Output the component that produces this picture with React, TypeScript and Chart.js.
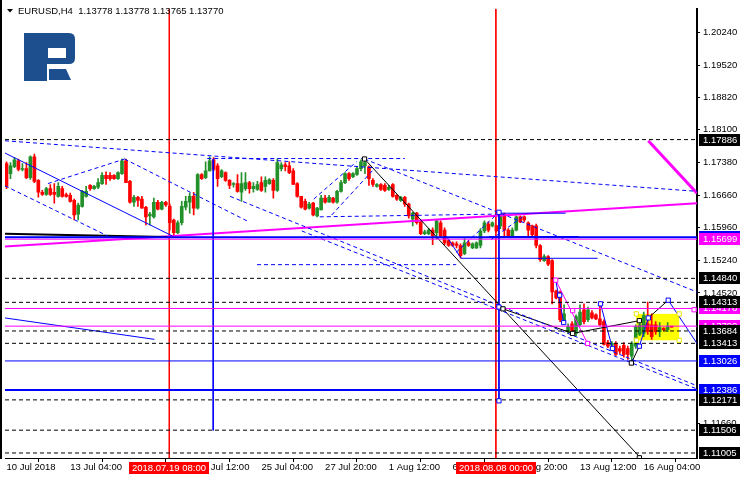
import React, { useEffect, useRef } from 'react';
import { Chart, registerables } from 'chart.js';
Chart.register(...registerables);

const X_MIN = -0.375;
const X_MAX = 173.375;
const Y_MIN = 1.10895;
const Y_MAX = 1.2076;

const opens = [
  1.1736, 1.1714, 1.1729, 1.1742, 1.1723, 1.1725, 1.1705, 1.1751, 1.1699, 1.1673,
  1.1668, 1.1681, 1.1673, 1.1664, 1.1681, 1.1668, 1.1666, 1.1655, 1.1625, 1.1642,
  1.1664, 1.1688, 1.1681, 1.1684, 1.1692, 1.1710, 1.1710, 1.1710, 1.1703, 1.1714,
  1.1742, 1.1697, 1.1651, 1.1662, 1.1658, 1.1640, 1.1621, 1.1619, 1.1651, 1.1636,
  1.1651, 1.1642, 1.1612, 1.1584, 1.1606, 1.1640, 1.1651, 1.1664, 1.1638, 1.1712,
  1.1705, 1.1720, 1.1744, 1.1731, 1.1707, 1.1716, 1.1699, 1.1690, 1.1692, 1.1673,
  1.1681, 1.1694, 1.1681, 1.1679, 1.1694, 1.1686, 1.1692, 1.1699, 1.1677, 1.1725,
  1.1733, 1.1731, 1.1720, 1.1692, 1.1664, 1.1653, 1.1638, 1.1649, 1.1621, 1.1634,
  1.1660, 1.1651, 1.1660, 1.1651, 1.1675, 1.1694, 1.1714, 1.1707, 1.1712, 1.1725,
  1.1731, 1.1729, 1.1699, 1.1686, 1.1690, 1.1688, 1.1679, 1.1690, 1.1666, 1.1655,
  1.1662, 1.1647, 1.1614, 1.1627, 1.1608, 1.1582, 1.1582, 1.1590, 1.1584, 1.1606,
  1.1590, 1.1567, 1.1562, 1.1560, 1.1556, 1.1538, 1.1562, 1.1551, 1.1551, 1.1556,
  1.1588, 1.1603, 1.1599, 1.1599, 1.1599, 1.1625, 1.1590, 1.1577, 1.1590, 1.1619,
  1.1619, 1.1606, 1.1599, 1.1599, 1.1556, 1.1523, 1.1532, 1.1523, 1.1456, 1.1454,
  1.1389, 1.1367, 1.1384, 1.1363, 1.1382, 1.1415, 1.1393, 1.1408, 1.1404, 1.1395,
  1.1389, 1.1343, 1.1337, 1.1341, 1.1330, 1.1337, 1.1330, 1.1313, 1.1335, 1.1361,
  1.1363, 1.1384, 1.1382, 1.1382, 1.1367, 1.1374, 1.1371, 1.13778,
];
const highs = [
  1.1740, 1.1738, 1.1749, 1.1746, 1.1736, 1.1738, 1.1753, 1.1757, 1.1701, 1.1677,
  1.1684, 1.1690, 1.1692, 1.1694, 1.1686, 1.1671, 1.1671, 1.1658, 1.1649, 1.1677,
  1.1686, 1.1690, 1.1688, 1.1703, 1.1716, 1.1718, 1.1716, 1.1712, 1.1718, 1.1746,
  1.1746, 1.1699, 1.1666, 1.1664, 1.1664, 1.1642, 1.1629, 1.1660, 1.1655, 1.1653,
  1.1653, 1.1647, 1.1614, 1.1610, 1.1653, 1.1664, 1.1671, 1.1673, 1.1714, 1.1714,
  1.1740, 1.1751, 1.1749, 1.1736, 1.1723, 1.1718, 1.1701, 1.1694, 1.1712, 1.1716,
  1.1716, 1.1697, 1.1694, 1.1697, 1.1707, 1.1707, 1.1703, 1.1703, 1.1746, 1.1738,
  1.1738, 1.1740, 1.1725, 1.1694, 1.1664, 1.1658, 1.1651, 1.1651, 1.1640, 1.1666,
  1.1666, 1.1666, 1.1662, 1.1677, 1.1699, 1.1716, 1.1716, 1.1716, 1.1729, 1.1744,
  1.1746, 1.1731, 1.1703, 1.1692, 1.1692, 1.1692, 1.1688, 1.1692, 1.1668, 1.1664,
  1.1664, 1.1649, 1.1629, 1.1629, 1.1610, 1.1590, 1.1593, 1.1595, 1.1612, 1.1610,
  1.1595, 1.1569, 1.1564, 1.1564, 1.1560, 1.1571, 1.1567, 1.1562, 1.1564, 1.1593,
  1.1610, 1.1608, 1.1608, 1.1601, 1.1629, 1.1627, 1.1593, 1.1595, 1.1621, 1.1621,
  1.1621, 1.1608, 1.1601, 1.1603, 1.1558, 1.1536, 1.1534, 1.1525, 1.1458, 1.1456,
  1.1426, 1.1384, 1.1389, 1.1404, 1.1426, 1.1428, 1.1421, 1.1413, 1.1406, 1.1428,
  1.1393, 1.1348, 1.1345, 1.1345, 1.1335, 1.1343, 1.1335, 1.1345, 1.1382, 1.1389,
  1.1410, 1.1432, 1.1406, 1.1389, 1.1387, 1.1376, 1.1387, 1.13778,
];
const lows = [
  1.1681, 1.1703, 1.1727, 1.1720, 1.1720, 1.1703, 1.1701, 1.1694, 1.1662, 1.1666,
  1.1666, 1.1666, 1.1649, 1.1662, 1.1662, 1.1662, 1.1651, 1.1612, 1.1612, 1.1640,
  1.1662, 1.1677, 1.1679, 1.1681, 1.1690, 1.1690, 1.1699, 1.1701, 1.1701, 1.1712,
  1.1694, 1.1649, 1.1642, 1.1642, 1.1638, 1.1601, 1.1601, 1.1616, 1.1634, 1.1634,
  1.1642, 1.1590, 1.1575, 1.1582, 1.1601, 1.1634, 1.1627, 1.1623, 1.1636, 1.1701,
  1.1703, 1.1720, 1.1720, 1.1686, 1.1705, 1.1697, 1.1681, 1.1684, 1.1673, 1.1653,
  1.1677, 1.1671, 1.1673, 1.1677, 1.1675, 1.1673, 1.1690, 1.1660, 1.1675, 1.1720,
  1.1720, 1.1714, 1.1690, 1.1662, 1.1638, 1.1634, 1.1636, 1.1621, 1.1619, 1.1634,
  1.1649, 1.1651, 1.1649, 1.1649, 1.1673, 1.1692, 1.1699, 1.1705, 1.1710, 1.1720,
  1.1714, 1.1688, 1.1686, 1.1684, 1.1677, 1.1675, 1.1677, 1.1662, 1.1655, 1.1653,
  1.1642, 1.1616, 1.1599, 1.1603, 1.1580, 1.1580, 1.1580, 1.1558, 1.1571, 1.1575,
  1.1558, 1.1554, 1.1554, 1.1551, 1.1528, 1.1536, 1.1554, 1.1549, 1.1549, 1.1551,
  1.1584, 1.1586, 1.1597, 1.1586, 1.1593, 1.1573, 1.1573, 1.1575, 1.1588, 1.1606,
  1.1608, 1.1577, 1.1575, 1.1551, 1.1521, 1.1521, 1.1512, 1.1428, 1.1439, 1.1389,
  1.1384, 1.1363, 1.1358, 1.1358, 1.1380, 1.1384, 1.1389, 1.1395, 1.1393, 1.1380,
  1.1337, 1.1332, 1.1330, 1.1315, 1.1319, 1.1311, 1.1306, 1.1302, 1.1330, 1.1358,
  1.1356, 1.1361, 1.1350, 1.1361, 1.1356, 1.1369, 1.1367, 1.13765,
];
const closes = [
  1.1686, 1.1731, 1.1744, 1.1723, 1.1725, 1.1705, 1.1751, 1.1697, 1.1673, 1.1668,
  1.1681, 1.1668, 1.1668, 1.1686, 1.1664, 1.1664, 1.1653, 1.1623, 1.1645, 1.1675,
  1.1675, 1.1681, 1.1686, 1.1694, 1.1710, 1.1703, 1.1703, 1.1703, 1.1716, 1.1742,
  1.1694, 1.1651, 1.1662, 1.1655, 1.1638, 1.1619, 1.1625, 1.1651, 1.1636, 1.1651,
  1.1645, 1.1606, 1.1584, 1.1606, 1.1642, 1.1653, 1.1664, 1.1638, 1.1712, 1.1703,
  1.1720, 1.1742, 1.1723, 1.1703, 1.1720, 1.1699, 1.1688, 1.1692, 1.1675, 1.1692,
  1.1694, 1.1681, 1.1686, 1.1690, 1.1677, 1.1699, 1.1701, 1.1677, 1.1738, 1.1733,
  1.1729, 1.1716, 1.1690, 1.1664, 1.1640, 1.1636, 1.1647, 1.1623, 1.1638, 1.1660,
  1.1651, 1.1662, 1.1651, 1.1675, 1.1694, 1.1714, 1.1703, 1.1714, 1.1725, 1.1740,
  1.1738, 1.1703, 1.1690, 1.1690, 1.1679, 1.1677, 1.1684, 1.1664, 1.1658, 1.1662,
  1.1647, 1.1621, 1.1627, 1.1606, 1.1582, 1.1586, 1.1590, 1.1577, 1.1610, 1.1577,
  1.1562, 1.1556, 1.1556, 1.1556, 1.1534, 1.1562, 1.1556, 1.1560, 1.1562, 1.1588,
  1.1606, 1.1590, 1.1606, 1.1588, 1.1623, 1.1590, 1.1577, 1.1590, 1.1619, 1.1608,
  1.1612, 1.1590, 1.1580, 1.1556, 1.1525, 1.1532, 1.1515, 1.1454, 1.1441, 1.1393,
  1.1406, 1.1378, 1.1361, 1.1400, 1.1410, 1.1389, 1.1415, 1.1397, 1.1395, 1.1382,
  1.1339, 1.1335, 1.1341, 1.1317, 1.1324, 1.1317, 1.1317, 1.1341, 1.1378, 1.1382,
  1.1402, 1.1367, 1.1356, 1.1367, 1.1376, 1.1371, 1.1378, 1.13770,
];

const xTickIdx = [0, 16, 32, 48, 64, 80, 96, 112, 128, 144, 160];
const xTickLabels = [
  '10 Jul 2018', '13 Jul 04:00', '17 Jul 20:00', '20 Jul 12:00', '25 Jul 04:00', '27 Jul 20:00',
  '1 Aug 12:00', '6 Aug 04:00', '8 Aug 20:00', '13 Aug 12:00', '16 Aug 04:00',
];
const yTickValues = [1.2024, 1.1952, 1.1882, 1.181, 1.1738, 1.1666, 1.1596, 1.1524, 1.1452, 1.1166];

const crosshairIdx = [40.875, 122.875];
const crosshairLabels = ['2018.07.19 08:00', '2018.08.08 00:00'];

const blackDashedLevels = [1.17886, 1.1484, 1.14313, 1.13684, 1.13413, 1.12171, 1.11506, 1.11005];
const magentaLevels = [1.15699, 1.14178, 1.1379];
const blueLevels = [1.1574, 1.13026, 1.12386];
const blueLevelWidths = [2, 1, 2];

// price tags on the right axis (drawn in this order)
const tagValues = [1.17886, 1.1574, 1.15699, 1.1484, 1.14178, 1.14313, 1.1379, 1.13684, 1.13413, 1.13026, 1.12386, 1.12171, 1.11506, 1.11005];
const tagColors = ['#000000', '#0000ff', '#ff00ff', '#000000', '#ff00ff', '#000000', '#ff00ff', '#000000', '#000000', '#0000ff', '#0000ff', '#000000', '#000000', '#000000'];

// trend lines [barIndex0, price0, barIndex1, price1]
const blueDashedLines = [
  [-0.375, 1.1786, 173.375, 1.1675],
  [50.4, 1.1747, 100.0, 1.1747],
  [-0.375, 1.1687, 25.4, 1.1577],
  [10.4, 1.1692, 29.65, 1.1746],
  [29.65, 1.1746, 60.4, 1.161],
  [56.15, 1.1664, 173.375, 1.1248],
  [89.9, 1.1746, 173.375, 1.1454],
  [74.15, 1.1588, 173.375, 1.1241],
  [78.65, 1.1619, 122.9, 1.1625],
  [62.9, 1.1514, 112.9, 1.1514],
  [77.15, 1.1658, 87.9, 1.174],
  [81.65, 1.1623, 92.15, 1.1723],
  [112.9, 1.1541, 123.65, 1.1629],
  [121.65, 1.1569, 129.9, 1.1621],
];
const blueSolidLines = [
  [-0.375, 1.1759, 41.65, 1.1577],
  [122.9, 1.1627, 140.4, 1.1627],
  [110.4, 1.1577, 114.15, 1.1528],
  [114.15, 1.1528, 148.4, 1.1528],
  [-0.375, 1.1397, 37.15, 1.135],
  [137.9, 1.148, 139.9, 1.1387],
  [149.15, 1.1428, 152.15, 1.133],
  [158.9, 1.1335, 161.15, 1.1397],
  [166.15, 1.1436, 173.375, 1.1341],
  [51.9, 1.1746, 51.9, 1.115],
  [123.65, 1.1629, 123.65, 1.1215],
];
const blueThickLines = [[121.15, 1.1575, 143.65, 1.1575]];
const blackSolidLines = [
  [89.9, 1.1746, 159.15, 1.109],
  [124.65, 1.1417, 142.15, 1.1363],
  [142.15, 1.1363, 158.9, 1.1391],
  [156.9, 1.1298, 158.9, 1.1335],
  [161.15, 1.1397, 166.15, 1.1436],
];
const blackThickLines = [[-0.375, 1.1582, 40.4, 1.1575]];
const magentaThinLines = [[137.9, 1.148, 145.9, 1.1341]];
const magentaThickLines = [[-0.375, 1.1554, 173.375, 1.1649]];
const magentaHeavyLines = [[161.15, 1.1786, 173.375, 1.1671]];

// yellow zone [i0, i1, priceTop, priceBottom]
const yellowZone = [158.15, 168.9, 1.1406, 1.1348];

const blackMarks = [[89.9, 1.1746], [124.65, 1.1417], [142.15, 1.1363], [158.9, 1.1391], [156.9, 1.1298], [158.9, 1.109]];
const blueMarks = [[123.65, 1.1629], [123.65, 1.1421], [123.65, 1.1215], [138.9, 1.1447], [139.9, 1.1387], [149.15, 1.1428], [152.15, 1.133], [158.9, 1.1335], [161.15, 1.1397], [166.15, 1.1436]];
const magentaMarks = [[137.9, 1.148], [142.15, 1.1413], [145.9, 1.1341], [172.65, 1.1415]];
const yellowMarks = [[158.15, 1.1406], [168.9, 1.1406], [158.15, 1.1348], [168.9, 1.1348]];

const headerText = 'EURUSD,H4  1.13778 1.13778 1.13765 1.13770';

const BULL = '#23912a';
const BEAR = '#ff0000';
const FONT = 'Liberation Sans';

export default function App() {
  const ref = useRef<HTMLCanvasElement>(null);
  useEffect(() => {
    const canvas = ref.current!;
    const idx = opens.map((_, i) => i);
    const colors = idx.map((i) => (closes[i] >= opens[i] ? BULL : BEAR));
    const datasets: any[] = [];
    datasets.push({
      type: 'bar',
      data: idx.map((i) => ({ x: i, y: [lows[i], highs[i]] })),
      backgroundColor: colors,
      barThickness: 1,
      grouped: false,
      minBarLength: 1,
      order: 50,
    });
    datasets.push({
      type: 'bar',
      data: idx.map((i) => ({ x: i, y: [opens[i], closes[i]] })),
      backgroundColor: colors,
      barThickness: 3,
      grouped: false,
      minBarLength: 1,
      order: 49,
    });
    const addLine = (s: number[], color: string, width: number, dash: number[]) => {
      datasets.push({
        type: 'line',
        data: [{ x: s[0], y: s[1] }, { x: s[2], y: s[3] }],
        borderColor: color,
        borderWidth: width,
        borderDash: dash,
        pointRadius: 0,
        fill: false,
        tension: 0,
        order: 5,
      });
    };
    blackDashedLevels.forEach((v) => addLine([X_MIN, v, X_MAX, v], '#000000', 1, [4, 3]));
    blueLevels.forEach((v, k) => addLine([X_MIN, v, X_MAX, v], '#0000ff', blueLevelWidths[k], []));
    magentaLevels.forEach((v) => addLine([X_MIN, v, X_MAX, v], '#ff00ff', 1, []));
    blueDashedLines.forEach((s) => addLine(s, '#0000ff', 1, [4, 3]));
    blueSolidLines.forEach((s) => addLine(s, '#0000ff', 1, []));
    blueThickLines.forEach((s) => addLine(s, '#0000ff', 2, []));
    blackSolidLines.forEach((s) => addLine(s, '#000000', 1, []));
    blackThickLines.forEach((s) => addLine(s, '#000000', 2, []));
    magentaThinLines.forEach((s) => addLine(s, '#ff00ff', 1, []));
    magentaThickLines.forEach((s) => addLine(s, '#ff00ff', 2, []));
    magentaHeavyLines.forEach((s) => addLine(s, '#ff00ff', 3, []));
    crosshairIdx.forEach((v) => addLine([v, Y_MAX, v, Y_MIN], '#ff0000', 1, []));

    const addMarks = (pts: number[][], color: string) => {
      datasets.push({
        type: 'line',
        data: pts.map((p) => ({ x: p[0], y: p[1] })),
        showLine: false,
        pointStyle: 'rect',
        pointRadius: 3,
        pointBorderColor: color,
        pointBackgroundColor: '#ffffff',
        pointBorderWidth: 1,
        order: 1,
      });
    };
    addMarks(blackMarks, '#000000');
    addMarks(blueMarks, '#0000ff');
    addMarks(magentaMarks, '#ff00ff');
    addMarks(yellowMarks, '#e8e800');

    const decor = {
      id: 'decor',
      beforeDatasetsDraw(chart: any) {
        const ctx = chart.ctx;
        const xs = chart.scales.x;
        const ys = chart.scales.y;
        const x0 = xs.getPixelForValue(yellowZone[0]);
        const x1 = xs.getPixelForValue(yellowZone[1]);
        const y0 = ys.getPixelForValue(yellowZone[2]);
        const y1 = ys.getPixelForValue(yellowZone[3]);
        ctx.save();
        ctx.fillStyle = '#ffff00';
        ctx.fillRect(x0, y0, x1 - x0, y1 - y0);
        ctx.restore();
      },
      afterDraw(chart: any) {
        const ctx = chart.ctx;
        const xs = chart.scales.x;
        const ys = chart.scales.y;
        const area = chart.chartArea;
        ctx.save();
        // left frame
        ctx.fillStyle = '#000';
        ctx.fillRect(0, 0, 2, area.bottom + 1);
        // header
        ctx.beginPath();
        ctx.moveTo(7, 9);
        ctx.lineTo(13, 9);
        ctx.lineTo(10, 12.5);
        ctx.closePath();
        ctx.fill();
        ctx.font = `9.5px "${FONT}"`;
        ctx.textBaseline = 'middle';
        ctx.textAlign = 'left';
        ctx.fillText(headerText, 18, 11);
        // logo
        ctx.fillStyle = '#1d4f8f';
        ctx.beginPath();
        ctx.moveTo(24, 33);
        ctx.lineTo(69, 33);
        ctx.quadraticCurveTo(75, 33, 75, 39);
        ctx.lineTo(75, 58);
        ctx.quadraticCurveTo(75, 64, 69, 64);
        ctx.lineTo(47, 64);
        ctx.lineTo(47, 81);
        ctx.lineTo(24, 81);
        ctx.closePath();
        ctx.fill();
        ctx.fillStyle = '#ffffff';
        ctx.fillRect(48, 48, 18, 10);
        ctx.fillStyle = '#1d4f8f';
        ctx.beginPath();
        ctx.moveTo(49, 69);
        ctx.lineTo(66, 69);
        ctx.lineTo(71, 80);
        ctx.lineTo(49, 80);
        ctx.closePath();
        ctx.fill();
        // price tags
        ctx.font = `9.5px "${FONT}"`;
        tagValues.forEach((v, k) => {
          const y = Math.round(ys.getPixelForValue(v));
          ctx.fillStyle = tagColors[k];
          ctx.fillRect(699, y - 6, 41, 12);
          ctx.fillStyle = '#ffffff';
          ctx.fillText(v.toFixed(5), 703, y + 0.5);
        });
        // crosshair time labels
        ctx.textAlign = 'center';
        crosshairIdx.forEach((v, k) => {
          const x = Math.round(xs.getPixelForValue(v));
          ctx.fillStyle = '#ff0000';
          ctx.fillRect(x - 40, 462, 80, 12);
          ctx.fillStyle = '#ffffff';
          ctx.fillText(crosshairLabels[k], x, 468.5);
        });
        ctx.restore();
      },
    };

    const chart = new Chart(canvas, {
      type: 'bar',
      data: { datasets },
      options: {
        animation: false,
        responsive: false,
        devicePixelRatio: 1,
        events: [],
        layout: { padding: { left: 2, top: 3, right: 0, bottom: 0 } },
        plugins: { legend: { display: false }, tooltip: { enabled: false } },
        scales: {
          x: {
            type: 'linear',
            min: X_MIN,
            max: X_MAX,
            offset: false,
            afterFit: (s: any) => { s.height = 22; },
            afterBuildTicks: (s: any) => { s.ticks = xTickIdx.map((v) => ({ value: v })); },
            grid: { drawOnChartArea: false, drawTicks: true, tickLength: 4, color: '#000' },
            border: { display: true, color: '#000', width: 1 },
            ticks: {
              autoSkip: false,
              maxRotation: 0,
              align: 'start',
              padding: 0,
              color: '#000',
              font: { family: FONT, size: 9.5 },
              callback: (_v: any, i: number) => xTickLabels[i],
            },
          },
          y: {
            type: 'linear',
            position: 'right',
            min: Y_MIN,
            max: Y_MAX,
            beginAtZero: false,
            afterFit: (s: any) => { s.width = 43; },
            afterBuildTicks: (s: any) => { s.ticks = yTickValues.map((v) => ({ value: v })); },
            grid: { drawOnChartArea: false, drawTicks: true, tickLength: 3, color: '#000' },
            border: { display: true, color: '#000', width: 2 },
            ticks: {
              padding: 3,
              color: '#000',
              font: { family: FONT, size: 9.5 },
              callback: (v: any) => Number(v).toFixed(5),
            },
          },
        },
      } as any,
      plugins: [decor],
    });
    return () => chart.destroy();
  }, []);

  return (
    <div style={{ position: 'absolute', left: 0, top: 0, width: 740, height: 480, background: '#fff' }}>
      <canvas ref={ref} width={740} height={480} style={{ display: 'block' }} />
    </div>
  );
}
